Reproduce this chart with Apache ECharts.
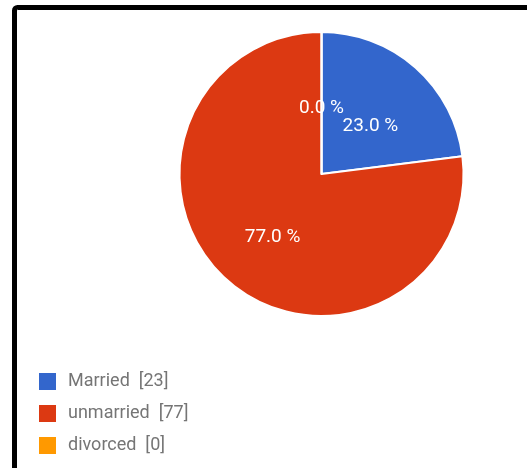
<!DOCTYPE html>
<html>
<head>
<meta charset="utf-8">
<style>
  html, body { margin: 0; padding: 0; background: #fff; }
  #chart { width: 527px; height: 468px; }
</style>
<script src="https://cdn.jsdelivr.net/npm/echarts@6/dist/echarts.min.js"></script>
</head>
<body>
<div id="chart"></div>
<script>
// Marital status breakdown
const categories = ['Married', 'unmarried', 'divorced'];
const counts = [23, 77, 0];
const palette = ['#3366cc', '#dc3912', '#ff9900'];

const data = categories.map((name, i) => ({ name: name, value: counts[i] }));
const countByName = {};
categories.forEach((c, i) => { countByName[c] = counts[i]; });

const chart = echarts.init(document.getElementById('chart'), null, { renderer: 'canvas' });
chart.setOption({
  animation: false,
  color: palette,
  graphic: [{
    type: 'rect',
    shape: { x: 14.5, y: 7.5, width: 700, height: 700, r: 3 },
    style: { fill: 'none', stroke: '#000', lineWidth: 5 },
    silent: true
  }],
  legend: {
    orient: 'vertical',
    left: 37,
    top: 371,
    width: 300,
    height: 100,
    itemWidth: 19,
    itemHeight: 19,
    itemGap: 11,
    padding: 0,
    icon: 'rect',
    formatter: name => name + '  [' + countByName[name] + ']',
    textStyle: {
      fontFamily: 'Roboto',
      fontSize: 18,
      lineHeight: 21,
      color: '#757575',
      padding: [0, 0, 0, 6]
    }
  },
  series: [{
    type: 'pie',
    center: [321.5, 174],
    radius: [0, 142],
    startAngle: 90,
    clockwise: true,
    avoidLabelOverlap: false,
    stillShowZeroSum: true,
    itemStyle: { borderColor: '#fff', borderWidth: 2 },
    label: {
      show: true,
      position: 'inside',
      color: '#fff',
      fontFamily: 'Roboto',
      fontSize: 19,
      offset: [0, 8],
      formatter: p => p.percent.toFixed(1) + ' %'
    },
    labelLayout: { hideOverlap: false },
    labelLine: { show: false },
    emphasis: { disabled: true },
    data: data
  }]
});
</script>
</body>
</html>
